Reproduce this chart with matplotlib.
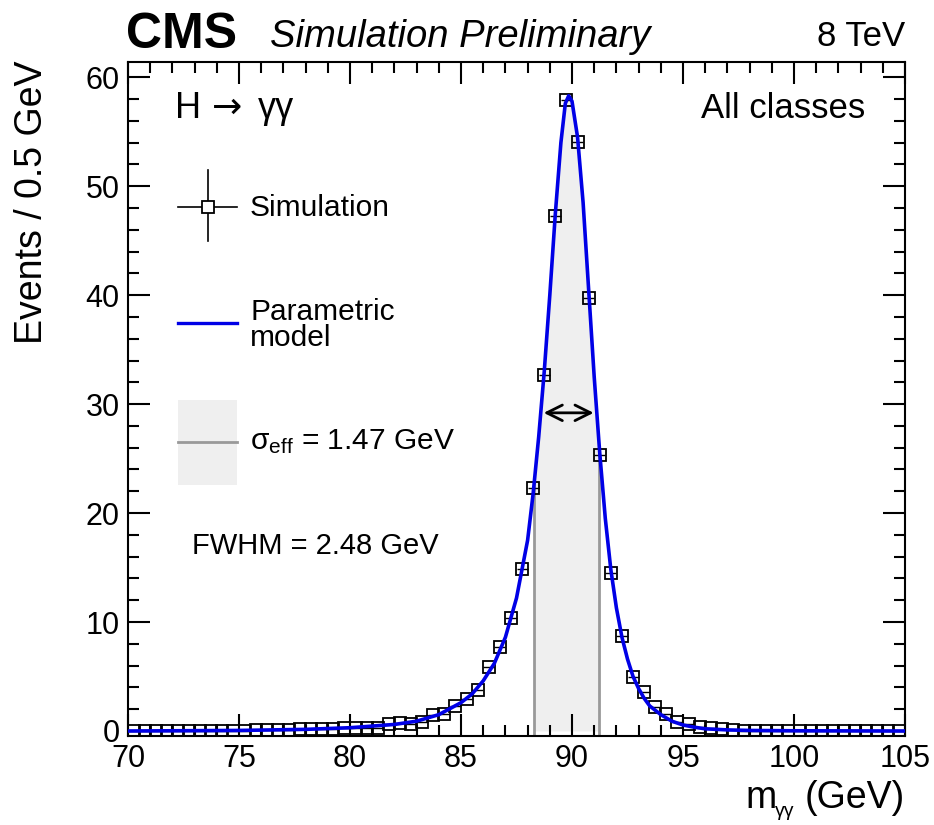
import matplotlib
matplotlib.use('Agg')
import numpy as np
import matplotlib.pyplot as plt
from matplotlib.ticker import MultipleLocator

plt.rcParams['font.family'] = ['Liberation Sans', 'DejaVu Sans']
plt.rcParams['mathtext.fontset'] = 'custom'
plt.rcParams['mathtext.rm'] = 'Liberation Sans'
plt.rcParams['mathtext.it'] = 'Liberation Sans:italic'

# simulated events per 0.5 GeV bin (bin centres 70.25 ... 104.75)
bin_centres = np.arange(70.25, 105.0, 0.5)
sim_events = [0.03] * 11 + [
    0.05, 0.05, 0.1, 0.1, 0.2, 0.2, 0.15, 0.2, 0.25, 0.25,
    0.25, 0.3, 0.65, 0.7, 0.65, 0.8, 1.5, 1.6, 2.3, 2.9,
    3.8, 5.9, 7.7, 10.4, 14.9, 22.3, 32.7, 47.3, 57.9, 54.1,
    39.7, 25.3, 14.5, 8.7, 5.0, 3.6, 2.2, 1.55, 0.8, 0.6,
    0.4, 0.25, 0.2, 0.1] + [0.03] * 15

# parametric model
model_x = [70, 75, 78, 80, 82, 83, 84, 85, 85.5, 86, 86.5, 87, 87.5, 88, 88.25,
           88.5, 88.75, 89.0, 89.25, 89.5, 89.7, 89.85, 90.0, 90.25, 90.5, 90.75,
           91.0, 91.25, 91.5, 91.75, 92.0, 92.25, 92.5, 92.75, 93.0, 93.25, 93.5,
           94, 94.5, 95, 95.5, 96, 97, 98, 100, 105]
model_y = [0.0, 0.05, 0.15, 0.3, 0.6, 0.9, 1.5, 2.6, 3.4, 4.6, 6.2, 8.6, 12.2, 17.5, 21.8,
           27.0, 33.0, 40.0, 47.5, 54.0, 57.6, 58.3, 57.8, 54.5, 48.5, 40.5,
           32.5, 25.5, 19.5, 14.8, 11.3, 8.6, 6.6, 5.0, 3.9, 3.0, 2.3,
           1.5, 0.9, 0.55, 0.35, 0.2, 0.1, 0.05, 0.02, 0.0]

sigma_eff_lo, sigma_eff_hi = 88.29, 91.23
fwhm_lo, fwhm_hi, half_max = 88.6, 91.1, 29.2

W, H = 934, 825
fig = plt.figure(figsize=(W / 100, H / 100), dpi=100)
ax = fig.add_axes([128 / W, 1 - 736 / H, (905 - 128) / W, (736 - 62) / H])


def px(x, y):
    return x / W, 1 - y / H


# sigma_eff band
xs = np.linspace(sigma_eff_lo, sigma_eff_hi, 200)
ax.fill_between(xs, 0, np.interp(xs, model_x, model_y), color='#efefef', lw=0, zorder=1)
for xe in (sigma_eff_lo, sigma_eff_hi):
    ax.plot([xe, xe], [-0.5, np.interp(xe, model_x, model_y)], color='#999999', lw=2, zorder=2)

ax.errorbar(bin_centres, sim_events, xerr=0.25, fmt='s', ms=8, mfc='none', mec='black',
            mew=1.3, ecolor='black', elinewidth=1.0, zorder=3)
ax.plot(model_x, model_y, color='#0000e6', lw=2.6, zorder=4)

ax.annotate('', xy=(fwhm_lo, half_max), xytext=(fwhm_hi, half_max),
            arrowprops=dict(arrowstyle='<->', color='black', lw=2, mutation_scale=28), zorder=5)

ax.set_xlim(70, 105)
ax.set_ylim(-0.46, 61.4)
ax.xaxis.set_major_locator(MultipleLocator(5))
ax.xaxis.set_minor_locator(MultipleLocator(1))
ax.yaxis.set_major_locator(MultipleLocator(10))
ax.yaxis.set_minor_locator(MultipleLocator(2))
ax.tick_params(which='both', direction='in', top=True, right=True, width=1.5,
               labelsize=22)
ax.tick_params(axis='x', pad=6)
ax.tick_params(axis='y', pad=6)
ax.tick_params(which='major', length=16)
ax.tick_params(which='minor', length=8)
for s in ax.spines.values():
    s.set_linewidth(1.5)

# legend drawn by hand
fig.add_artist(plt.Line2D([178 / W, 237 / W], [1 - 207 / H] * 2, color='black', lw=1.2))
fig.add_artist(plt.Line2D([208 / W] * 2, [1 - 170 / H, 1 - 241 / H], color='black', lw=1.2))
fig.add_artist(plt.Line2D([208 / W], [1 - 207 / H], marker='s', ms=8, mfc='white',
                          mec='black', mew=1.3))
fig.add_artist(plt.Line2D([178 / W, 237 / W], [1 - 323 / H] * 2, color='#0000e6', lw=2.4))
fig.add_artist(plt.Rectangle(px(178, 485), 59 / W, 85 / H, color='#efefef', lw=0))
fig.add_artist(plt.Line2D([178 / W, 237 / W], [1 - 442 / H] * 2, color='#999999', lw=2))

fig.text(*px(175, 108), 'H', fontsize=26, va='center')
fig.text(*px(212, 108), '→', fontsize=26, va='center', family=['DejaVu Sans'])
fig.text(*px(258, 108), 'γγ', fontsize=26, va='center')
fig.text(*px(865, 108), 'All classes', fontsize=25, va='center', ha='right')
fig.text(*px(250, 208), 'Simulation', fontsize=21.5, va='center')
fig.text(*px(250, 325), 'Parametric\nmodel', fontsize=21.5, va='center', linespacing=0.95)
fig.text(*px(250, 442), r'$\mathregular{σ_{eff}}$ = 1.47 GeV', fontsize=21.5, va='center')
fig.text(*px(192, 546), 'FWHM = 2.48 GeV', fontsize=21, va='center')

fig.text(*px(126, 35), 'CMS', fontsize=36, fontweight='bold', va='center')
fig.text(*px(270, 37), 'Simulation Preliminary', fontsize=27.5, style='italic', va='center')
fig.text(*px(905, 37), '8 TeV', fontsize=25, ha='right', va='center')

fig.text(*px(905, 798), '(GeV)', fontsize=27, ha='right', va='center')
fig.text(*px(745, 798), 'm', fontsize=27, ha='left', va='center')
fig.text(*px(775, 811), 'γγ', fontsize=14, ha='left', va='center')
fig.text(*px(32, 60), 'Events / 0.5 GeV', fontsize=27, rotation=90, ha='center', va='top')

fig.savefig('out.png', dpi=100)
